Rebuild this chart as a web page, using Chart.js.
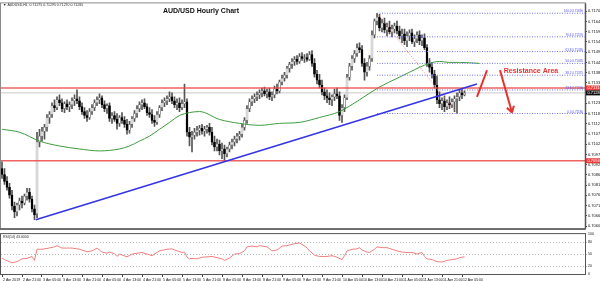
<!DOCTYPE html>
<html>
<head>
<meta charset="utf-8">
<title>AUD/USD Hourly Chart</title>
<script src="https://cdn.jsdelivr.net/npm/chart.js@4.4.1/dist/chart.umd.min.js"></script>
<style>
  html, body { margin: 0; padding: 0; background: #fff; }
  #wrap { position: relative; width: 600px; height: 281px; overflow: hidden; }
  canvas { position: absolute; left: 0; }
  #main { top: 0; }
  #rsi { top: 231px; }
</style>
</head>
<body>
<div id="wrap">
  <canvas id="main" width="600" height="232"></canvas>
  <canvas id="rsi" width="600" height="50"></canvas>
</div>
<script>
// H1 candles, bar 0 = 2 Apr 13:00
const opens = [0.70900,0.70870,0.70835,0.70805,0.70765,0.70710,0.70680,0.70715,0.70735,0.70725,
  0.70760,0.70780,0.70745,0.70695,0.70670,0.71035,0.71065,0.71090,0.71110,0.71160,
  0.71175,0.71220,0.71210,0.71250,0.71235,0.71205,0.71230,0.71215,0.71225,0.71245,
  0.71255,0.71245,0.71215,0.71190,0.71170,0.71160,0.71190,0.71210,0.71235,0.71250,
  0.71260,0.71225,0.71205,0.71220,0.71155,0.71170,0.71150,0.71130,0.71160,0.71145,
  0.71125,0.71095,0.71125,0.71155,0.71180,0.71205,0.71225,0.71235,0.71215,0.71185,
  0.71175,0.71145,0.71135,0.71175,0.71210,0.71235,0.71245,0.71255,0.71265,0.71245,
  0.71225,0.71235,0.71210,0.71230,0.71240,0.71085,0.71060,0.71070,0.71085,0.71095,
  0.71105,0.71090,0.71100,0.71110,0.71085,0.71035,0.71010,0.71025,0.70990,0.71000,
  0.70975,0.71000,0.71020,0.71035,0.71050,0.71065,0.71075,0.71110,0.71145,0.71205,
  0.71240,0.71255,0.71265,0.71275,0.71285,0.71295,0.71280,0.71290,0.71265,0.71275,
  0.71305,0.71295,0.71340,0.71360,0.71375,0.71410,0.71430,0.71445,0.71455,0.71445,
  0.71470,0.71460,0.71465,0.71455,0.71480,0.71435,0.71380,0.71350,0.71325,0.71290,
  0.71270,0.71260,0.71250,0.71265,0.71280,0.71270,0.71170,0.71210,0.71260,0.71365,
  0.71420,0.71460,0.71485,0.71515,0.71505,0.71435,0.71390,0.71420,0.71460,0.71580,
  0.71650,0.71670,0.71615,0.71640,0.71605,0.71620,0.71595,0.71610,0.71625,0.71600,
  0.71575,0.71585,0.71550,0.71575,0.71590,0.71545,0.71560,0.71580,0.71550,0.71565,
  0.71515,0.71435,0.71415,0.71380,0.71325,0.71250,0.71230,0.71245,0.71215,0.71235,
  0.71225,0.71240,0.71255,0.71265,0.71285,0.71275];
const highs = [0.70935,0.70900,0.70860,0.70825,0.70790,0.70730,0.70725,0.70750,0.70760,0.70770,
  0.70800,0.70800,0.70760,0.70715,0.71085,0.71100,0.71110,0.71125,0.71175,0.71190,
  0.71235,0.71250,0.71265,0.71275,0.71255,0.71240,0.71250,0.71240,0.71260,0.71275,
  0.71300,0.71265,0.71235,0.71210,0.71195,0.71205,0.71225,0.71250,0.71265,0.71280,
  0.71270,0.71245,0.71230,0.71235,0.71185,0.71190,0.71180,0.71170,0.71185,0.71165,
  0.71150,0.71140,0.71165,0.71195,0.71220,0.71240,0.71250,0.71255,0.71230,0.71210,
  0.71200,0.71170,0.71190,0.71220,0.71250,0.71260,0.71270,0.71290,0.71285,0.71265,
  0.71255,0.71260,0.71250,0.71330,0.71255,0.71110,0.71090,0.71105,0.71115,0.71120,
  0.71125,0.71115,0.71120,0.71130,0.71110,0.71065,0.71050,0.71045,0.71030,0.71020,
  0.71010,0.71035,0.71050,0.71065,0.71080,0.71090,0.71125,0.71160,0.71220,0.71255,
  0.71270,0.71280,0.71290,0.71300,0.71310,0.71315,0.71305,0.71310,0.71290,0.71320,
  0.71330,0.71350,0.71375,0.71390,0.71420,0.71440,0.71460,0.71470,0.71475,0.71485,
  0.71490,0.71480,0.71485,0.71495,0.71500,0.71460,0.71400,0.71380,0.71350,0.71310,
  0.71300,0.71285,0.71275,0.71305,0.71310,0.71290,0.71225,0.71275,0.71380,0.71435,
  0.71475,0.71500,0.71535,0.71540,0.71525,0.71460,0.71440,0.71475,0.71600,0.71660,
  0.71690,0.71685,0.71660,0.71665,0.71640,0.71650,0.71630,0.71640,0.71650,0.71625,
  0.71610,0.71610,0.71595,0.71605,0.71610,0.71580,0.71595,0.71600,0.71580,0.71585,
  0.71530,0.71460,0.71440,0.71400,0.71370,0.71290,0.71260,0.71270,0.71250,0.71265,
  0.71255,0.71270,0.71285,0.71300,0.71305,0.71295];
const lows = [0.70850,0.70820,0.70790,0.70750,0.70690,0.70650,0.70660,0.70690,0.70700,0.70715,
  0.70740,0.70730,0.70680,0.70640,0.70650,0.71010,0.71040,0.71050,0.71090,0.71130,
  0.71160,0.71190,0.71200,0.71220,0.71190,0.71185,0.71200,0.71190,0.71205,0.71220,
  0.71230,0.71200,0.71175,0.71155,0.71140,0.71150,0.71175,0.71195,0.71220,0.71230,
  0.71210,0.71190,0.71180,0.71140,0.71130,0.71140,0.71100,0.71115,0.71130,0.71110,
  0.71075,0.71080,0.71110,0.71140,0.71160,0.71190,0.71200,0.71205,0.71170,0.71160,
  0.71130,0.71115,0.71125,0.71160,0.71195,0.71215,0.71225,0.71240,0.71230,0.71210,
  0.71200,0.71190,0.71200,0.71210,0.71065,0.71015,0.70985,0.71050,0.71065,0.71070,
  0.71075,0.71065,0.71080,0.71070,0.71020,0.70990,0.70990,0.70970,0.70950,0.70935,
  0.70960,0.70985,0.71000,0.71015,0.71030,0.71045,0.71060,0.71095,0.71130,0.71190,
  0.71220,0.71235,0.71245,0.71255,0.71265,0.71270,0.71260,0.71250,0.71245,0.71260,
  0.71280,0.71285,0.71325,0.71345,0.71360,0.71390,0.71410,0.71425,0.71430,0.71435,
  0.71450,0.71440,0.71445,0.71450,0.71420,0.71365,0.71330,0.71310,0.71275,0.71250,
  0.71235,0.71225,0.71220,0.71245,0.71255,0.71145,0.71135,0.71190,0.71250,0.71350,
  0.71400,0.71440,0.71470,0.71490,0.71420,0.71350,0.71370,0.71400,0.71445,0.71565,
  0.71630,0.71600,0.71595,0.71590,0.71575,0.71585,0.71570,0.71590,0.71585,0.71560,
  0.71540,0.71530,0.71520,0.71550,0.71535,0.71520,0.71540,0.71530,0.71525,0.71505,
  0.71420,0.71390,0.71360,0.71310,0.71230,0.71210,0.71200,0.71190,0.71200,0.71205,
  0.71210,0.71190,0.71180,0.71245,0.71255,0.71270];
const closes = [0.70870,0.70835,0.70805,0.70765,0.70710,0.70680,0.70715,0.70735,0.70725,0.70760,
  0.70780,0.70745,0.70695,0.70665,0.71035,0.71065,0.71090,0.71110,0.71160,0.71175,
  0.71220,0.71210,0.71250,0.71235,0.71205,0.71230,0.71215,0.71225,0.71245,0.71255,
  0.71245,0.71215,0.71190,0.71170,0.71160,0.71190,0.71210,0.71235,0.71250,0.71260,
  0.71225,0.71205,0.71220,0.71155,0.71170,0.71150,0.71130,0.71160,0.71145,0.71125,
  0.71095,0.71125,0.71155,0.71180,0.71205,0.71225,0.71235,0.71215,0.71185,0.71175,
  0.71145,0.71135,0.71175,0.71210,0.71235,0.71245,0.71255,0.71265,0.71245,0.71225,
  0.71235,0.71210,0.71230,0.71240,0.71085,0.71060,0.71070,0.71085,0.71095,0.71105,
  0.71090,0.71100,0.71110,0.71085,0.71035,0.71010,0.71025,0.70990,0.71000,0.70975,
  0.71000,0.71020,0.71035,0.71050,0.71065,0.71075,0.71110,0.71145,0.71205,0.71240,
  0.71255,0.71265,0.71275,0.71285,0.71295,0.71280,0.71290,0.71265,0.71275,0.71305,
  0.71295,0.71340,0.71360,0.71375,0.71410,0.71430,0.71445,0.71455,0.71445,0.71470,
  0.71460,0.71465,0.71455,0.71480,0.71435,0.71380,0.71350,0.71325,0.71290,0.71270,
  0.71260,0.71250,0.71265,0.71280,0.71270,0.71170,0.71210,0.71260,0.71365,0.71420,
  0.71460,0.71485,0.71515,0.71505,0.71435,0.71390,0.71420,0.71460,0.71580,0.71650,
  0.71670,0.71615,0.71640,0.71605,0.71620,0.71595,0.71610,0.71625,0.71600,0.71575,
  0.71585,0.71550,0.71575,0.71590,0.71545,0.71560,0.71580,0.71550,0.71565,0.71515,
  0.71435,0.71415,0.71380,0.71325,0.71250,0.71230,0.71245,0.71215,0.71235,0.71225,
  0.71240,0.71255,0.71265,0.71285,0.71275,0.71285];

// one label every 8 bars
const timeLabels = ["2 Apr 2019","2 Apr 21:00","3 Apr 05:00","3 Apr 13:00","3 Apr 21:00","4 Apr 05:00",
  "4 Apr 13:00","4 Apr 21:00","5 Apr 05:00","5 Apr 13:00","5 Apr 21:00","8 Apr 05:00","8 Apr 13:00",
  "8 Apr 21:00","9 Apr 05:00","9 Apr 13:00","9 Apr 21:00","10 Apr 05:00","10 Apr 13:00","10 Apr 21:00",
  "11 Apr 05:00","11 Apr 13:00","11 Apr 21:00","12 Apr 05:00"];
const priceTicks = [0.71700,0.71648,0.71596,0.71544,0.71492,0.71440,0.71388,0.71336,0.71284,0.71232,0.71180,
  0.71128,0.71076,0.71024,0.70972,0.70920,0.70868,0.70816,0.70764,0.70712,0.70660,0.70608];

// moving average (green)
const maBars = [0,7,15,23,31,39,47,51,55,59,63,67,71,75,79,87,95,103,111,119,127,135,143,151,159,163,167,171,175,179,183,191];
const maValues = [0.71100,0.71085,0.71040,0.71015,0.71000,0.70990,0.71000,0.71015,0.71040,0.71065,0.71100,
  0.71135,0.71170,0.71185,0.71190,0.71150,0.71130,0.71120,0.71130,0.71135,0.71160,0.71190,0.71250,0.71315,
  0.71365,0.71390,0.71415,0.71435,0.71445,0.71440,0.71440,0.71435];

// RSI(14)
const rsiBars = [0,1,4,6,8,10,12,13,14,16,18,21,22,24,28,31,34,36,38,40,42,43,45,46,47,50,52,56,58,60,
  63,66,68,70,72,73,74,75,76,78,80,84,88,89,91,93,95,97,98,100,102,103,106,108,110,112,114,117,119,122,
  123,125,127,130,132,134,136,137,138,140,142,143,144,146,147,149,150,152,154,156,158,160,162,164,166,168,
  169,170,172,174,176,178,180,182,183,185];
const rsiValues = [40,36,28,31,38,39,44,34,62,62,64,68,71,65,65,62,56,58,65,55,52,55,51,44,50,43,50,54,50,46,
  58,62,63,58,54,55,42,38,39,38,42,44,38,34,40,50,51,58,68,70,68,71,68,58,60,70,71,76,78,66,
  58,47,44,44,46,42,36,46,58,62,63,66,60,55,54,62,68,66,66,62,58,55,54,54,50,54,
  44,38,36,31,30,34,36,38,41,43];
const rsiTicks = [0, 20, 50, 80, 100];
const rsiLevels = [20, 50, 80];

// drawn objects
const resistanceLines = [0.71310, 0.70940];
const fibRatios = ["100.0", "76.4", "61.8", "50.0", "38.2", "23.6", "0.0"];
const fibPrices = [0.71690, 0.71570, 0.71495, 0.71435, 0.71375, 0.71300, 0.71180];
const fibStartBar = 150, fibEndBar = 182;
const trendLine = [{x: 13.5, y: 0.70640}, {x: 190, y: 0.71330}];
const upStroke = [{x: 190, y: 0.71265}, {x: 194, y: 0.71400}];
const downArrow = [{x: 199.2, y: 0.71400}, {x: 204, y: 0.71185}];

const X_MIN = -0.4, X_MAX = 233.2;
const FONT = '"Liberation Sans", Arial, sans-serif';
const RED = '#e8302e';

const bars = closes.map((_, i) => i);
const lastClose = closes[closes.length - 1];
const hline = p => [{x: X_MIN, y: p}, {x: X_MAX, y: p}];
const lineDs = (label, data, color, width, extra) => Object.assign(
  {type: 'line', label, data, borderColor: color, borderWidth: width, pointRadius: 0, fill: false, order: 1}, extra || {});

const mainDecor = {
  id: 'mainDecor',
  afterDraw(chart) {
    const {ctx, chartArea: a, scales: {y}} = chart;
    ctx.save();
    // arrow head on the down arrow
    const idx = chart.data.datasets.findIndex(d => d.label === 'down');
    const pts = chart.getDatasetMeta(idx).data;
    const ang = Math.atan2(pts[1].y - pts[0].y, pts[1].x - pts[0].x);
    ctx.strokeStyle = RED; ctx.lineWidth = 2;
    ctx.beginPath();
    [-1, 1].forEach(s => {
      ctx.moveTo(pts[1].x, pts[1].y);
      ctx.lineTo(pts[1].x - 7 * Math.cos(ang + s * 0.55), pts[1].y - 7 * Math.sin(ang + s * 0.55));
    });
    ctx.stroke();

    // fib labels
    ctx.font = '3px ' + FONT; ctx.fillStyle = '#4a4af0';
    ctx.textAlign = 'right'; ctx.textBaseline = 'bottom';
    fibPrices.forEach((p, k) => ctx.fillText(fibRatios[k] + ' ' + p.toFixed(5), a.right - 2, y.getPixelForValue(p) - 0.3));

    // texts
    ctx.fillStyle = '#111'; ctx.font = 'bold 7px ' + FONT; ctx.textAlign = 'center'; ctx.textBaseline = 'middle';
    ctx.fillText('AUD/USD Hourly Chart', 201, 11);
    ctx.fillStyle = RED;
    ctx.fillText('Resistance Area', 531, 71);
    ctx.fillStyle = '#222'; ctx.font = '3.5px ' + FONT; ctx.textAlign = 'left';
    ctx.fillText('\u25BC AUDUSD,H1  ' + [opens, highs, lows, closes].map(s => s[s.length - 1].toFixed(5)).join(' '), 3, 5);

    // frame
    ctx.strokeStyle = '#8a8a8a'; ctx.lineWidth = 1;
    ctx.strokeRect(a.left - 0.5, a.top - 0.5, a.width + 1, a.height + 1);
    ctx.strokeStyle = '#555'; ctx.lineWidth = 1.5;
    ctx.beginPath(); ctx.moveTo(0, a.bottom + 0.5); ctx.lineTo(a.right + 0.5, a.bottom + 0.5);
    ctx.moveTo(a.right + 0.5, a.top); ctx.lineTo(a.right + 0.5, a.bottom); ctx.stroke();

    // price boxes on the axis
    const box = (p, bg) => {
      const py = y.getPixelForValue(p);
      ctx.fillStyle = bg; ctx.fillRect(a.right + 1, py - 2.5, 15, 5);
      ctx.fillStyle = '#fff'; ctx.font = '4px ' + FONT; ctx.textAlign = 'left'; ctx.textBaseline = 'middle';
      ctx.fillText(p.toFixed(5), a.right + 2.5, py);
    };
    resistanceLines.forEach(p => box(p, '#ee3a3a'));
    box(lastClose, '#111');
    ctx.restore();
  }
};

new Chart(document.getElementById('main'), {
  type: 'bar',
  data: {
    datasets: [
      lineDs('bid', hline(lastClose), '#c8c8c8', 1, {order: 6}),
      {type: 'bar', label: 'wick', data: bars.map(i => ({x: i, y: [lows[i], highs[i]]})),
        backgroundColor: '#555555', barThickness: 1, grouped: false, order: 5},
      {type: 'bar', label: 'body', data: bars.map(i => ({x: i, y: [opens[i], closes[i]]})),
        backgroundColor: bars.map(i => closes[i] >= opens[i] ? '#ffffff' : '#000000'),
        borderColor: bars.map(i => closes[i] >= opens[i] ? '#6a6a6a' : '#000000'), borderWidth: 0.6, borderSkipped: false,
        barThickness: 2, minBarLength: 1, grouped: false, order: 4},
      lineDs('ma', maBars.map((b, k) => ({x: b, y: maValues[k]})), '#3c9c3c', 1, {cubicInterpolationMode: 'monotone', order: 3}),
      ...resistanceLines.map(p => lineDs('res', hline(p), 'rgba(236,70,70,0.85)', 1.5, {order: 2})),
      ...fibPrices.map(p => lineDs('fib', [{x: fibStartBar, y: p}, {x: X_MAX, y: p}], '#7272f2', 1, {borderDash: [1, 1.5], order: 2})),
      lineDs('fibdiag', [{x: fibStartBar, y: fibPrices[0]}, {x: fibEndBar, y: fibPrices[6]}], '#f08a8a', 1, {borderDash: [1, 1.5], order: 2}),
      lineDs('trend', trendLine, '#3434e6', 1.5, {order: 1}),
      lineDs('up', upStroke, RED, 2, {order: 0}),
      lineDs('down', downArrow, RED, 2, {order: 0})
    ]
  },
  options: {
    responsive: false, animation: false, devicePixelRatio: 1,
    layout: {padding: {left: 1, top: 2, right: 0, bottom: 1}},
    plugins: {legend: {display: false}, tooltip: {enabled: false}},
    scales: {
      x: {type: 'linear', min: X_MIN, max: X_MAX, offset: false, display: false, grid: {offset: false}},
      y: {
        position: 'right', min: 0.70595, max: 0.71740,
        afterBuildTicks: s => { s.ticks = priceTicks.map(v => ({value: v})); },
        afterFit: s => { s.width = 15; },
        ticks: {font: {size: 4, family: FONT}, color: '#111', padding: 1, callback: v => v.toFixed(5)},
        grid: {drawOnChartArea: false, drawTicks: true, tickLength: 2, color: '#444'},
        border: {display: false}
      }
    }
  },
  plugins: [mainDecor]
});

const rsiDecor = {
  id: 'rsiDecor',
  afterDraw(chart) {
    const {ctx, chartArea: a} = chart;
    ctx.save();
    ctx.fillStyle = '#222'; ctx.font = '3.5px ' + FONT; ctx.textAlign = 'left'; ctx.textBaseline = 'middle';
    ctx.fillText('RSI(14) ' + rsiValues[rsiValues.length - 1].toFixed(4), 3, a.top + 3);
    ctx.strokeStyle = '#555'; ctx.lineWidth = 1;
    ctx.strokeRect(a.left - 0.5, a.top - 0.5, a.width + 1, a.height + 1);
    ctx.restore();
  }
};

new Chart(document.getElementById('rsi'), {
  type: 'line',
  data: {
    datasets: [{
      data: rsiBars.map((b, k) => ({x: b, y: rsiValues[k]})),
      borderColor: 'rgb(240,128,128)', borderWidth: 1, pointRadius: 0, fill: false
    }]
  },
  options: {
    responsive: false, animation: false, devicePixelRatio: 1,
    layout: {padding: {left: 1, top: 1, right: 0, bottom: 0}},
    plugins: {legend: {display: false}, tooltip: {enabled: false}},
    scales: {
      x: {
        type: 'linear', min: X_MIN, max: X_MAX,
        afterBuildTicks: s => { s.ticks = timeLabels.map((_, k) => ({value: k * 8})); },
        afterFit: s => { s.height = 7; },
        ticks: {align: 'start', autoSkip: false, maxRotation: 0, font: {size: 3.5, family: FONT}, color: '#111',
          padding: 0.5, callback: (v, k) => ' ' + timeLabels[k]},
        grid: {drawOnChartArea: false, drawTicks: true, tickLength: 3, color: '#444'},
        border: {display: false}
      },
      y: {
        position: 'right', min: 0, max: 100,
        afterBuildTicks: s => { s.ticks = rsiTicks.map(v => ({value: v})); },
        afterFit: s => { s.width = 15; },
        ticks: {font: {size: 3.5, family: FONT}, color: '#111', padding: 1},
        grid: {color: c => rsiLevels.includes(c.tick.value) ? '#b4b4b4' : 'transparent', tickLength: 2},
        border: {display: false, dash: [1, 2]}
      }
    }
  },
  plugins: [rsiDecor]
});
</script>
</body>
</html>
